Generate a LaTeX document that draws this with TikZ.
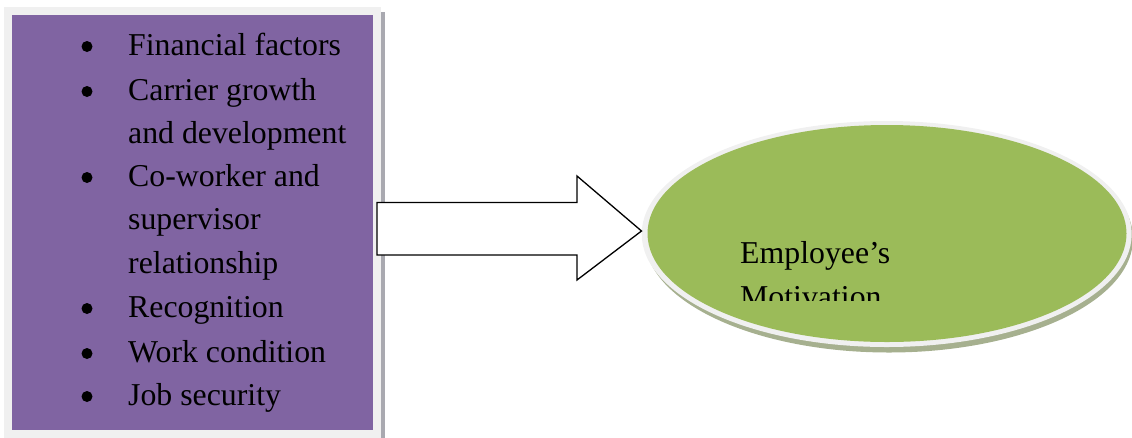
\documentclass[tikz,border=0pt]{standalone}
\usepackage{fontspec}
\usetikzlibrary{shapes.geometric}
\setmainfont{Liberation Serif}
\definecolor{boxpurple}{HTML}{8064A2}
\definecolor{ringgray}{HTML}{F0F0F0}
\definecolor{shadowgray}{HTML}{A9A9B0}
\definecolor{ovalgreen}{HTML}{9BBB59}
\definecolor{ovalshadow}{HTML}{A6B08F}
\tikzset{
  itemtext/.style={anchor=base west, inner sep=0pt, font=\fontsize{31.8}{36}\selectfont},
  bulletdot/.style={fill=black},
  blockarrow/.style={draw=black, line width=1.3pt, fill=white, line join=miter},
}
\begin{document}
\begin{tikzpicture}[x=1pt,y=-1pt]
\useasboundingbox (0,0) rectangle (1132,437);
% box with frame and shadow
\fill[shadowgray] (8,12) rectangle (385,440);
\fill[ringgray] (4,7) rectangle (381,440);
\node[fill=boxpurple, draw=none, minimum width=361pt, minimum height=415pt, inner sep=0pt, anchor=north west] (factors) at (12,15) {};
% list
\foreach \y/\t/\b in {55/Financial factors/1, 100/Carrier growth/1, 143/and development/0, 186/Co-worker and/1, 229/supervisor/0, 273/relationship/0, 317/Recognition/1, 362/Work condition/1, 405/Job security/1}{
  \node[itemtext] (item\y) at (128,\y) {\t};
  \ifnum\b=1 \fill[bulletdot] (87,\y-8.5) circle (5.5pt); \fi
}
% oval
\fill[ovalshadow] (889,238.5) ellipse (244pt and 114pt);
\fill[ringgray] (886.7,234) ellipse (245pt and 113pt);
\node[ellipse, fill=ovalgreen, minimum width=479pt, minimum height=217pt, inner sep=0pt] (motiv) at (887,233.5) {};
\begin{scope}
\clip (700,220) rectangle (1000,300);
\node[itemtext] (emp) at (740,263) {Employee’s};
\node[itemtext] (mot) at (740,307) {Motivation};
\end{scope}
% block arrow
\coordinate (a1) at (377,202.5);
\coordinate (a2) at (577,202.5);
\coordinate (a3) at (577,176);
\coordinate (tip) at (641.5,231);
\coordinate (a5) at (577,280);
\coordinate (a6) at (577,255);
\coordinate (a7) at (377,255);
\draw[blockarrow] (a1) -- (a2) -- (a3) -- (tip) -- (a5) -- (a6) -- (a7) -- cycle;
\end{tikzpicture}
\end{document}
